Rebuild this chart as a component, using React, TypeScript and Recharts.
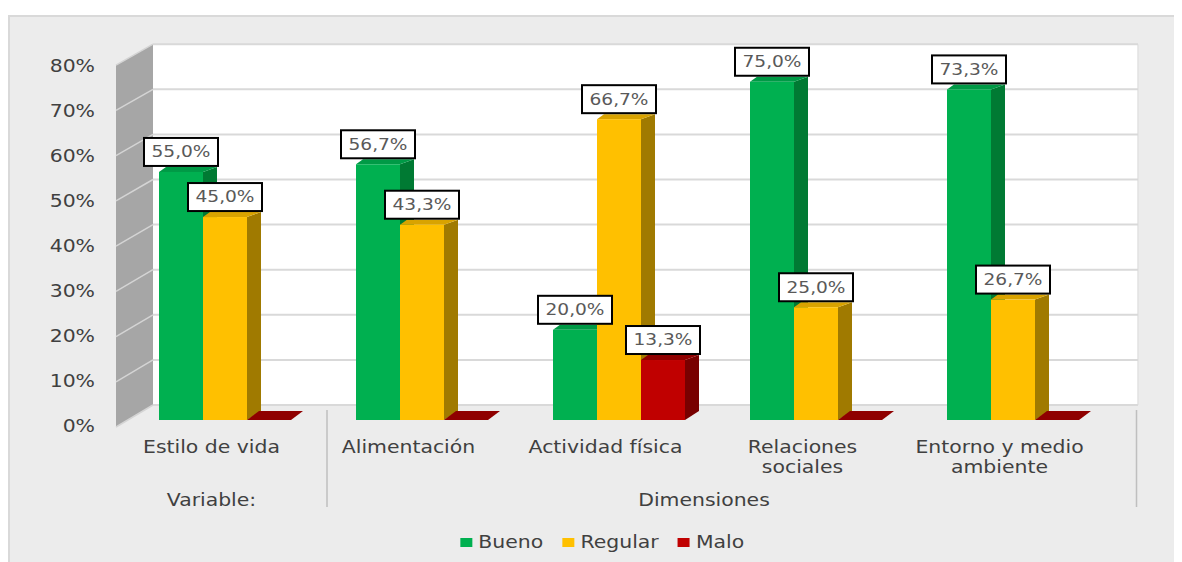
import { BarChart, Bar, XAxis, YAxis, ReferenceArea, Legend, LabelList } from 'recharts';

const CATEGORIES = ['Estilo de vida', 'Alimentación', 'Actividad física', 'Relaciones sociales', 'Entorno y medio ambiente'];
const BUENO = [0.55, 0.567, 0.2, 0.75, 0.733];
const REGULAR = [0.45, 0.433, 0.667, 0.25, 0.267];
const MALO = [0, 0, 0.133, 0, 0];
const Y_TICKS = [0, 0.1, 0.2, 0.3, 0.4, 0.5, 0.6, 0.7, 0.8];
const GROUPS = [
  { label: 'Variable:', from: 0, to: 0 },
  { label: 'Dimensiones', from: 1, to: 4 },
];

const SERIES = [
  { key: 'bueno', name: 'Bueno', front: '#00b050', side: '#007a33', top: '#009a46' },
  { key: 'regular', name: 'Regular', front: '#ffc000', side: '#a07a00', top: '#d9a300' },
  { key: 'malo', name: 'Malo', front: '#c00000', side: '#780000', top: '#8f0000' },
];

const data = CATEGORIES.map((name, i) => ({ name, bueno: BUENO[i], regular: REGULAR[i], malo: MALO[i] }));

// layout
const W = 1174;
const H = 554;
const Y_AXIS_W = 60;
const LEGEND_H = 30;
const BAND = 197;
const FONT = 'DejaVu Sans';
const TEXT = '#404040';

const pct = (v: number) => `${Math.round(v * 100)}%`;
const fmt = (v: number) => (v * 100).toFixed(1).replace('.', ',') + '%';

function wrap(s: string, max: number) {
  const out: string[] = [];
  let cur = '';
  for (const w of s.split(' ')) {
    if (cur && (cur + ' ' + w).length > max) {
      out.push(cur);
      cur = w;
    } else cur = cur ? cur + ' ' + w : w;
  }
  if (cur) out.push(cur);
  return out;
}

function Walls(props: any) {
  const { x, y, width, height } = props;
  const bx = x + 26.5;
  const by = y - 15;
  const sx = x - 10.5;
  const yAt = (t: number) => y + height * (1 - t / 0.8);
  return (
    <g>
      <rect x={bx} y={by} width={width} height={height} fill="#fff" />
      <line x1={bx + width} x2={bx + width} y1={by} y2={by + height} stroke="#e2e2e2" strokeWidth={1.5} />
      <polygon
        points={`${sx},${y + 6} ${bx},${by} ${bx},${by + height} ${sx},${y + height + 7}`}
        fill="#a6a6a6"
      />
      {Y_TICKS.map((t) => {
        const fy = yAt(t);
        return (
          <g key={t}>
            <line x1={bx} x2={bx + width} y1={fy - 15} y2={fy - 15} stroke="#d9d9d9" strokeWidth={2} />
            <line x1={sx} y1={fy + 6 + (1 - t / 0.8)} x2={bx} y2={fy - 15} stroke="#d4d4d4" strokeWidth={1.5} />
          </g>
        );
      })}
    </g>
  );
}

function Bar3D(props: any) {
  const { x, y, width, height, s } = props;
  if (height == null || isNaN(height)) return null;
  const bottom = y + height;
  if (height < 0.5) {
    return (
      <polygon
        points={`${x},${bottom} ${x + 12},${bottom - 9} ${x + width + 12},${bottom - 9} ${x + width},${bottom}`}
        fill={s.top}
      />
    );
  }
  const dL = 7, dR = 14, dy = -5, fdy = -9;
  return (
    <g>
      <polygon
        points={`${x + width},${y} ${x + width + dR},${y + dy} ${x + width + dR},${bottom + fdy} ${x + width},${bottom}`}
        fill={s.side}
      />
      <polygon
        points={`${x},${y} ${x + dL},${y + dy} ${x + width + dR},${y + dy} ${x + width},${y}`}
        fill={s.top}
      />
      <rect x={x} y={y} width={width} height={height} fill={s.front} />
    </g>
  );
}

function BoxLabel(props: any) {
  const vb = props.viewBox || {};
  const x = props.x ?? vb.x;
  const y = props.y ?? vb.y;
  const width = props.width ?? vb.width;
  const { value } = props;
  if (!value) return null;
  const cx = x + width / 2;
  const bw = 74;
  const bh = 28;
  const by = y - 6 - bh;
  return (
    <g>
      <rect x={cx - bw / 2} y={by} width={bw} height={bh} fill="#fff" stroke="#000" strokeWidth={2} />
      <text
        transform={`translate(${cx},${by + bh / 2}) scale(1.2,1)`}
        textAnchor="middle"
        dominantBaseline="central"
        fontSize={15.5}
        fontFamily={FONT}
        fill="#595959"
      >
        {fmt(value)}
      </text>
    </g>
  );
}

function CatTick(props: any) {
  const { x, payload, index } = props;
  const lines = wrap(String(payload.value), 16);
  const cx = x - 13.5;
  return (
    <g>
      {lines.map((l, i) => (
        <text
          key={i}
          transform={`translate(${cx},${439 + i * 20}) scale(1.2,1)`}
          textAnchor="middle"
          dominantBaseline="central"
          fontSize={17}
          fontFamily={FONT}
          fill={TEXT}
        >
          {l}
        </text>
      ))}
      {GROUPS.filter((g) => g.from === index).map((g) => (
        <text
          key={g.label}
          transform={`translate(${cx + ((g.to - g.from) / 2) * BAND},492) scale(1.2,1)`}
          textAnchor="middle"
          dominantBaseline="central"
          fontSize={17}
          fontFamily={FONT}
          fill={TEXT}
        >
          {g.label}
        </text>
      ))}
      {GROUPS.filter((g) => g.to === index).map((g) => {
        const lx = x + BAND / 2 + (index === CATEGORIES.length - 1 ? 25 : 3.5);
        return <line key={g.label} x1={lx} x2={lx} y1={402} y2={499} stroke="#bfbfbf" strokeWidth={1.5} />;
      })}
    </g>
  );
}

function ValTick(props: any) {
  const { y, payload } = props;
  return (
    <text
      transform={`translate(87,${y + 6.5}) scale(1.2,1)`}
      textAnchor="end"
      dominantBaseline="central"
      fontSize={17}
      fontFamily={FONT}
      fill={TEXT}
    >
      {pct(payload.value)}
    </text>
  );
}

function LegendContent({ payload }: any) {
  const items = SERIES.map((s) => (payload || []).find((e: any) => e.value === s.name)).filter(Boolean);
  return (
    <div
      style={{
        height: LEGEND_H,
        display: 'flex',
        justifyContent: 'center',
        alignItems: 'flex-start',
        paddingLeft: 15,
        boxSizing: 'border-box',
      }}
    >
      <div
        style={{
          display: 'inline-flex',
          transform: 'scaleX(1.2)',
          transformOrigin: 'center',
          fontFamily: FONT,
          fontSize: 17,
          color: TEXT,
          lineHeight: '20px',
          height: 20,
        }}
      >
        {items.map((e: any, i: number) => (
          <div key={e.value} style={{ display: 'flex', alignItems: 'center', marginLeft: i ? 16 : 0 }}>
            <span style={{ display: 'inline-block', width: 10, height: 9, background: e.color, marginRight: 5 }} />
            {e.value}
          </div>
        ))}
      </div>
    </div>
  );
}

export default function App() {
  return (
    <div style={{ position: 'relative', width: W, height: H }}>
      <div
        style={{
          position: 'absolute',
          top: 7,
          left: 0,
          width: W,
          height: H - 7,
          background: '#ececec',
          borderTop: '2px solid #d9d9d9',
          borderLeft: '2px solid #d9d9d9',
          boxSizing: 'border-box',
        }}
      />
      <div style={{ position: 'absolute', top: 0, left: 0 }}>
        <BarChart
          width={W}
          height={H}
          data={data}
          margin={{ top: 51.2, right: 70.5, bottom: 0, left: 118.5 - Y_AXIS_W }}
          barGap={0}
          barCategoryGap={32.5}
        >
          <XAxis
            dataKey="name"
            height={H - 412 - LEGEND_H}
            axisLine={false}
            tickLine={false}
            interval={0}
            tick={(p: any) => <CatTick {...p} />}
          />
          <XAxis xAxisId="lbl" dataKey="name" hide />
          <YAxis
            width={Y_AXIS_W}
            domain={[0, 0.8]}
            ticks={Y_TICKS}
            axisLine={false}
            tickLine={false}
            tick={(p: any) => <ValTick {...p} />}
          />
          <YAxis yAxisId="lbl" domain={[0, 0.8]} hide />
          <ReferenceArea y1={0} y2={0.8} shape={(p: any) => <Walls {...p} />} />
          {SERIES.map((s) => (
            <Bar
              key={s.key}
              dataKey={s.key}
              name={s.name}
              fill={s.front}
              isAnimationActive={false}
              shape={(p: any) => <Bar3D {...p} s={s} />}
            />
          ))}
          {SERIES.map((s) => (
            <Bar
              key={s.key + '-lbl'}
              dataKey={s.key}
              xAxisId="lbl"
              yAxisId="lbl"
              legendType="none"
              fill="transparent"
              isAnimationActive={false}
              shape={() => <g />}
            >
              <LabelList dataKey={s.key} content={(p: any) => <BoxLabel {...p} />} />
            </Bar>
          ))}
          <Legend
            verticalAlign="bottom"
            wrapperStyle={{ left: 0, width: W, bottom: 0 }}
            content={(p: any) => <LegendContent payload={p.payload} />}
          />
        </BarChart>
      </div>
    </div>
  );
}
